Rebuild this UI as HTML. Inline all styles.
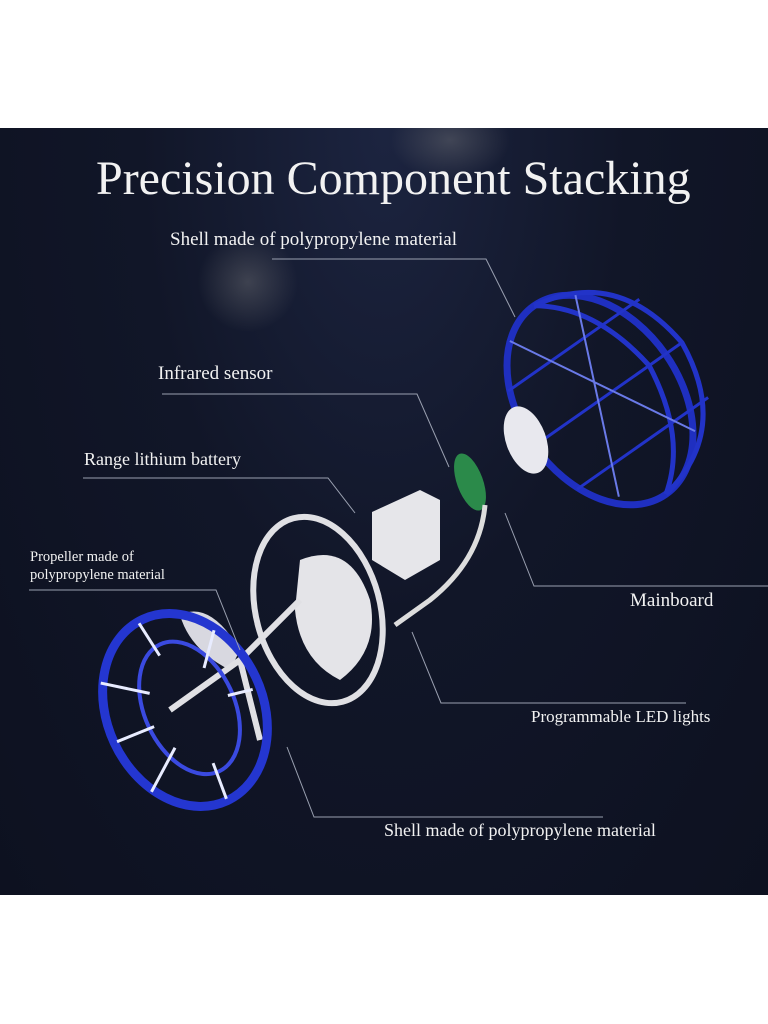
<!DOCTYPE html>
<html><head><meta charset="utf-8"><style>
html,body{margin:0;padding:0;background:#fff;}
#w{position:relative;width:768px;height:1024px;overflow:hidden;background:#fff;}
#p{position:absolute;left:0;top:128px;width:768px;height:767px;background:radial-gradient(ellipse at 50% 0%,#1c2440 0%,#111628 45%,#0d1120 100%);overflow:hidden;}
.t{position:absolute;font-family:"Liberation Serif",serif;color:#f2f2f2;white-space:nowrap;}
svg{position:absolute;left:0;top:0;}
</style></head><body><div id="w">
<div id="p"></div>
<svg width="768" height="1024">
<defs>
<radialGradient id="g1"><stop offset="0" stop-color="#8a8a8a" stop-opacity=".35"/><stop offset="1" stop-color="#8a8a8a" stop-opacity="0"/></radialGradient>
<clipPath id="cp"><rect x="0" y="128" width="768" height="767"/></clipPath>
</defs>
<g clip-path="url(#cp)">
<ellipse cx="248" cy="282" rx="50" ry="50" fill="url(#g1)"/>
<ellipse cx="450" cy="140" rx="60" ry="40" fill="url(#g1)"/>
<g transform="rotate(-35 600 400)" fill="none" stroke="#2233c8" stroke-width="5">
<ellipse cx="600" cy="400" rx="80" ry="115" stroke="#1f2fc0" stroke-width="7"/>
<path d="M600 285 Q690 300 700 400 Q690 500 600 515"/>
<path d="M600 285 Q650 320 660 400 Q650 480 600 515"/>
<path d="M530 340 L690 340 M525 400 L700 400 M530 460 L690 460" stroke-width="3"/>
<path d="M560 300 L660 480 M640 300 L560 490" stroke="#6a7ae8" stroke-width="2"/>
</g>
<ellipse cx="526" cy="440" rx="20" ry="35" transform="rotate(-20 526 440)" fill="#e8e8ee"/>
<ellipse cx="470" cy="482" rx="13" ry="30" transform="rotate(-20 470 482)" fill="#2b8a4a"/>
<path d="M485 505 Q480 560 430 600 L395 625" stroke="#ddd" stroke-width="5" fill="none"/>
<path d="M372 512 L420 490 L440 500 L440 560 L405 580 L372 560 Z" fill="#e6e6ea"/>
<ellipse cx="318" cy="610" rx="62" ry="95" transform="rotate(-15 318 610)" fill="none" stroke="#e0e0e4" stroke-width="6"/>
<path d="M300 560 Q350 540 370 600 Q380 650 340 680 Q300 660 295 610 Z" fill="#e4e4e8"/>
<path d="M180 615 Q210 600 240 650 L230 670 Q190 650 180 615 Z" fill="#d8d8e0"/>
<path d="M240 660 L300 600 M240 660 L170 710 M240 660 L260 740" stroke="#e0e0e4" stroke-width="6"/>
<g transform="rotate(-25 185 710)" fill="none">
<ellipse cx="185" cy="710" rx="78" ry="100" stroke="#2436d0" stroke-width="9"/>
<ellipse cx="190" cy="710" rx="45" ry="70" stroke="#3a4ae0" stroke-width="4"/>
<path d="M120 650 L160 680 M110 710 L150 712 M120 770 L160 740 M180 612 L185 650 M185 808 L188 770 M245 650 L220 680 M255 720 L230 715" stroke="#e8ecff" stroke-width="3"/>
</g>
</g>
<g stroke="#9aa0b0" stroke-width="1" fill="none">
<polyline points="272,259 486,259 515,317"/>
<polyline points="162,394 417,394 449,467"/>
<polyline points="83,478 328,478 355,513"/>
<polyline points="29,590 216,590 240,650"/>
<polyline points="505,513 534,586 768,586"/>
<polyline points="412,632 441,703 686,703"/>
<polyline points="287,747 314,817 603,817"/>
</g>
</svg>
<div class="t" style="left:96px;top:151px;font-size:48px;">Precision Component Stacking</div>
<div class="t" style="left:170px;top:229px;font-size:19px;">Shell made of polypropylene material</div>
<div class="t" style="left:158px;top:363px;font-size:19px;">Infrared sensor</div>
<div class="t" style="left:84px;top:449px;font-size:18px;">Range lithium battery</div>
<div class="t" style="left:30px;top:548px;font-size:14.5px;line-height:18px;">Propeller made of<br>polypropylene material</div>
<div class="t" style="left:630px;top:590px;font-size:19px;">Mainboard</div>
<div class="t" style="left:531px;top:707px;font-size:17px;">Programmable LED lights</div>
<div class="t" style="left:384px;top:820px;font-size:18px;">Shell made of polypropylene material</div>
</div></body></html>
